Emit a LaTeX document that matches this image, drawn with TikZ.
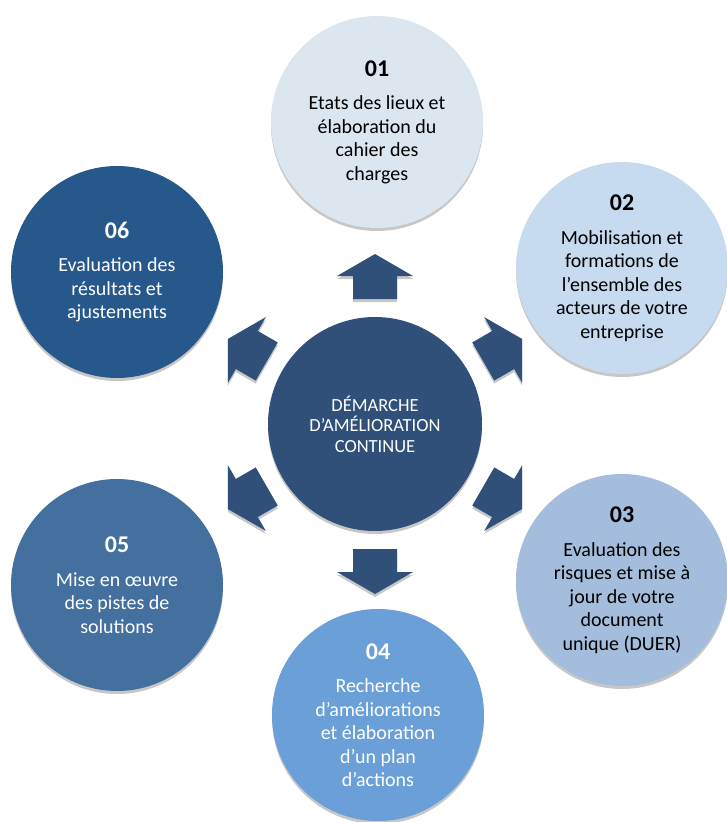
\documentclass[tikz,border=0pt]{standalone}
\usepackage{fontspec}
\setmainfont{Carlito}
\usetikzlibrary{shadows}

\definecolor{stageA}{HTML}{DCE6EF}
\definecolor{stageB}{HTML}{C6DBEF}
\definecolor{stageC}{HTML}{A4BDDC}
\definecolor{stageD}{HTML}{6A9FD7}
\definecolor{stageE}{HTML}{44709F}
\definecolor{stageF}{HTML}{27588C}
\definecolor{hubblue}{HTML}{30507A}

\tikzset{
  softshadow/.style={drop shadow={shadow xshift=0pt,shadow yshift=-3pt,opacity=0.22,fill=black}},
  stage/.style={circle,minimum size=212pt,inner sep=0pt,align=center,
    font=\fontsize{20}{23.5}\selectfont,softshadow},
  hub/.style={circle,minimum size=214pt,inner sep=0pt,align=center,fill=hubblue,
    text=white,font=\fontsize{18.5}{20.5}\selectfont,softshadow},
}
\newcommand{\stagenum}[1]{{\fontsize{24}{28}\selectfont\bfseries #1}\\[10pt]}

\begin{document}
\begin{tikzpicture}[x=1pt,y=-1pt]
\useasboundingbox (0,0) rectangle (727,822);

% centre
\node [hub] (centre) at (375,424) {DÉMARCHE\\D’AMÉLIORATION\\CONTINUE};

% block arrows round the centre
\foreach \ang in {90,30,-30,-90,-150,150}
  \fill [hubblue,softshadow,shift={(centre.center)},rotate=\ang]
    (125,-22) -- (148,-22) -- (148,-38) -- (170,0) -- (148,38) -- (148,22) -- (125,22) -- cycle;

% stages
\node [stage,fill=stageA] (s01) at (377,122) {\stagenum{01}Etats des lieux et\\élaboration du\\cahier des\\charges};
\node [stage,fill=stageB] (s02) at (622,268) {\stagenum{02}Mobilisation et\\formations de\\l’ensemble des\\acteurs de votre\\entreprise};
\node [stage,fill=stageC] (s03) at (622,580) {\stagenum{03}Evaluation des\\risques et mise à\\jour de votre\\document\\unique (DUER)};
\node [stage,fill=stageD,text=white] (s04) at (378,715) {\stagenum{04}Recherche\\d’améliorations\\et élaboration\\d’un plan\\d’actions};
\node [stage,fill=stageE,text=white] (s05) at (117,585) {\stagenum{05}Mise en œuvre\\des pistes de\\solutions};
\node [stage,fill=stageF,text=white] (s06) at (117,272) {\stagenum{06}Evaluation des\\résultats et\\ajustements};

\end{tikzpicture}
\end{document}
